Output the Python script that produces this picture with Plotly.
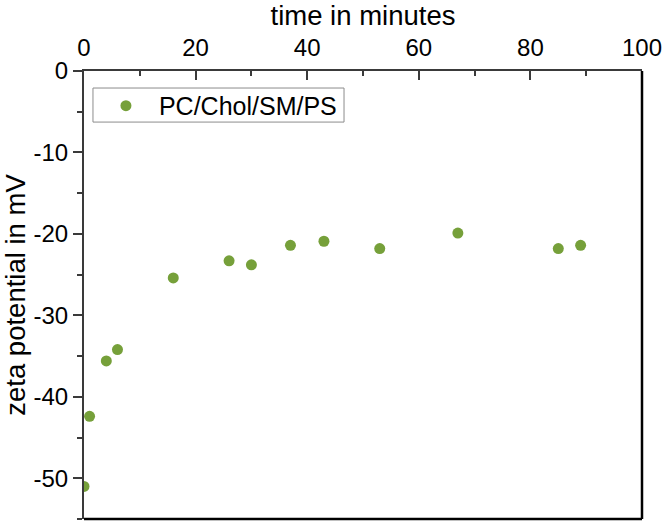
import plotly.graph_objects as go

# zeta potential over time
time_min = [0, 1, 4, 6, 16, 26, 30, 37, 43, 53, 67, 85, 89]
zeta_mv = [-51.0, -42.4, -35.6, -34.2, -25.4, -23.3, -23.8, -21.4, -20.9, -21.8, -19.9, -21.8, -21.4]

x_ticks = [0, 20, 40, 60, 80, 100]
y_ticks = [0, -10, -20, -30, -40, -50]
y_tick_text = ["0", "-10", "-20", "-30", "-40", "-50"]

green = "#76A03A"
font = "Arial, Liberation Sans, sans-serif"

fig = go.Figure()
fig.add_trace(go.Scatter(x=time_min, y=zeta_mv, mode="markers", name="PC/Chol/SM/PS",
                         marker=dict(color=green, size=11, line=dict(width=0))))

fig.update_layout(
    width=664, height=523,
    margin=dict(l=84, r=22, t=71, b=4, autoexpand=False),
    plot_bgcolor="white", paper_bgcolor="white",
    font=dict(family=font, size=24, color="black"),
    showlegend=True,
    legend=dict(x=0.016, y=0.922, xanchor="left", yanchor="middle",
                borderwidth=0, bgcolor="rgba(0,0,0,0)",
                font=dict(size=25), itemwidth=56, tracegroupgap=0),
)

fig.update_xaxes(
    side="top", range=[0, 100], tickvals=x_ticks,
    showline=True, linecolor="#3a3a3a", linewidth=2,
    ticks="inside", ticklen=9, tickwidth=2, tickcolor="#3a3a3a",
    minor=dict(dtick=10, ticks="inside", ticklen=5, tickwidth=2, tickcolor="#3a3a3a"),
    showgrid=False, zeroline=False, ticklabelstandoff=3,
    title=dict(text="time in minutes", font=dict(size=27.5), standoff=12),
)
fig.update_yaxes(
    range=[-55, 0], tickvals=y_ticks, ticktext=y_tick_text,
    showline=True, linecolor="#3a3a3a", linewidth=2,
    ticks="outside", ticklen=9, tickwidth=2, tickcolor="#3a3a3a",
    minor=dict(dtick=5, ticks="outside", ticklen=5, tickwidth=2, tickcolor="#3a3a3a"),
    showgrid=False, zeroline=False,
    title=dict(text="zeta potential in mV", font=dict(size=27.5), standoff=14),
)

# legend frame
fig.add_shape(type="rect", xref="paper", yref="paper", x0=0.0161, x1=0.466, y0=0.886, y1=0.962,
              line=dict(color="#8c8c8c", width=1), layer="below")
# darker right/bottom frame like the original
fig.add_shape(type="line", xref="paper", yref="paper", x0=1, x1=1, y0=0, y1=1,
              line=dict(color="black", width=2.5))
fig.add_shape(type="line", xref="paper", yref="paper", x0=0, x1=1, y0=0, y1=0,
              line=dict(color="black", width=2.5))

fig.write_html("out.html", config={"displayModeBar": False},
               post_script="document.body.style.margin='0px';document.body.style.overflow='hidden';")
